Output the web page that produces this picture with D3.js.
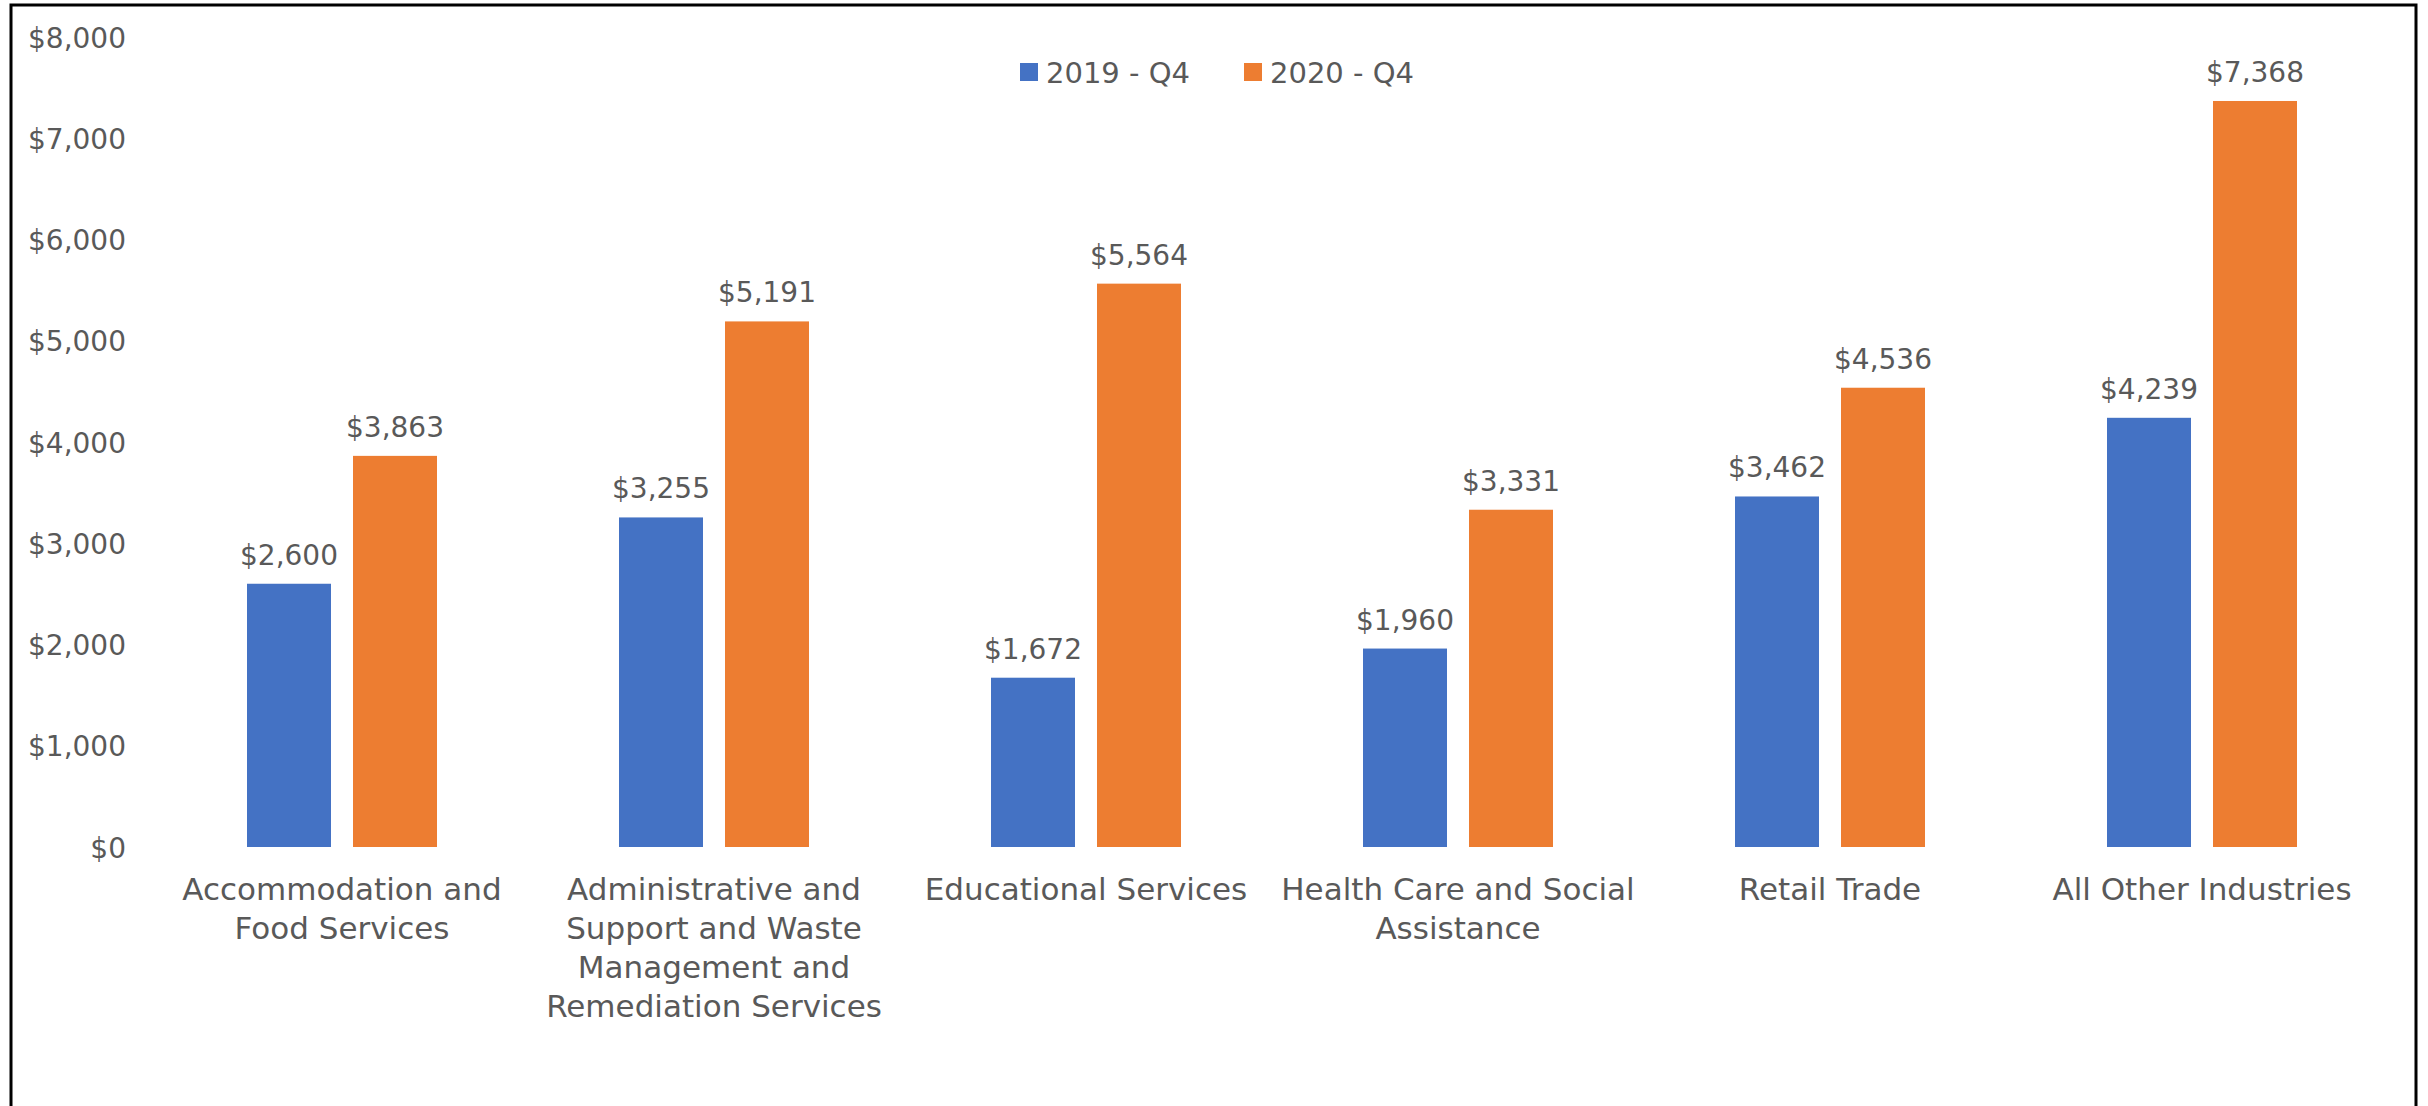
<!DOCTYPE html>
<html>
<head>
<meta charset="utf-8">
<script src="https://cdn.jsdelivr.net/npm/d3@7"></script>
<style>
  html, body { margin: 0; padding: 0; background: #fff; }
  svg { display: block; }
  text { font-family: "DejaVu Sans", sans-serif; fill: #595959; }
</style>
</head>
<body>
<svg id="chart"></svg>
<script>
// data
var categories = ["Accommodation and Food Services",
    "Administrative and Support and Waste Management and Remediation Services",
    "Educational Services", "Health Care and Social Assistance",
    "Retail Trade", "All Other Industries"];
var categoryLines = [
    ["Accommodation and", "Food Services"],
    ["Administrative and", "Support and Waste", "Management and", "Remediation Services"],
    ["Educational Services"],
    ["Health Care and Social", "Assistance"],
    ["Retail Trade"],
    ["All Other Industries"]];
var seriesNames = ["2019 - Q4", "2020 - Q4"];
var values2019 = [2600, 3255, 1672, 1960, 3462, 4239];
var values2020 = [3863, 5191, 5564, 3331, 4536, 7368];
var yTicks = [0, 1000, 2000, 3000, 4000, 5000, 6000, 7000, 8000];
var colors = ["#4472C4", "#ED7D31"];

var width = 2428, height = 1106;
var svg = d3.select('#chart').attr("width", width).attr("height", height);

// frame (no bottom edge visible)
svg.append("path")
    .attr("d", "M11,1110 L11,5 L2416,5 L2416,1110")
    .attr("fill", "none")
    .attr("stroke", "#000")
    .attr("stroke-width", 3);

var x0 = d3.scaleBand().domain(categories).range([156, 2388])
    .paddingInner(182 / 372).paddingOuter(91 / 372);
var x1 = d3.scaleBand().domain(seriesNames).range([0, x0.bandwidth()])
    .paddingInner(22 / 106);
var y = d3.scaleLinear().domain([0, 8000]).range([847, 37]);

var fmt = function(v) { return "$" + d3.format(",")(v); };

// y axis labels
var yAxis = d3.axisLeft(y).tickValues(yTicks).tickFormat(fmt).tickSize(0).tickPadding(0);
var gy = svg.append("g").attr("transform", "translate(126,0)").call(yAxis);
gy.select(".domain").remove();
gy.selectAll("text")
    .style("font-family", '"DejaVu Sans", sans-serif')
    .style("font-size", "28px")
    .attr("fill", "#595959")
    .attr("dy", "0.36em");

// bars
var rows = categories.map(function(c, i) {
    return { cat: c, vals: [values2019[i], values2020[i]] };
});

var groups = svg.selectAll(".grp").data(rows).enter().append("g")
    .attr("transform", function(d) { return "translate(" + x0(d.cat) + ",0)"; });

groups.selectAll("rect").data(function(d) {
        return d.vals.map(function(v, j) { return { s: seriesNames[j], v: v, j: j }; });
    }).enter().append("rect")
    .attr("x", function(d) { return x1(d.s); })
    .attr("y", function(d) { return y(d.v); })
    .attr("width", x1.bandwidth())
    .attr("height", function(d) { return y(0) - y(d.v); })
    .attr("fill", function(d) { return colors[d.j]; });

groups.selectAll(".val").data(function(d) {
        return d.vals.map(function(v, j) { return { s: seriesNames[j], v: v }; });
    }).enter().append("text")
    .attr("x", function(d) { return x1(d.s) + x1.bandwidth() / 2; })
    .attr("y", function(d) { return y(d.v) - 19; })
    .attr("text-anchor", "middle")
    .style("font-size", "28px")
    .text(function(d) { return fmt(d.v); });

// category labels
var xl = svg.selectAll(".xl").data(categories).enter().append("text")
    .attr("text-anchor", "middle")
    .style("font-size", "31px")
    .attr("transform", function(d) { return "translate(" + (x0(d) + x0.bandwidth() / 2) + ",900)"; });
xl.selectAll("tspan").data(function(d, i) { return categoryLines[i]; }).enter().append("tspan")
    .attr("x", 0)
    .attr("dy", function(d, i) { return i === 0 ? 0 : 39; })
    .text(function(d) { return d; });

// legend
var legX = [1020, 1244];
var leg = svg.selectAll(".leg").data(seriesNames).enter().append("g")
    .attr("transform", function(d, i) { return "translate(" + legX[i] + ",63)"; });
leg.append("rect").attr("width", 18).attr("height", 18)
    .attr("fill", function(d, i) { return colors[i]; });
leg.append("text").attr("x", 26).attr("y", 20)
    .style("font-size", "29px")
    .text(function(d) { return d; });
</script>
</body>
</html>
